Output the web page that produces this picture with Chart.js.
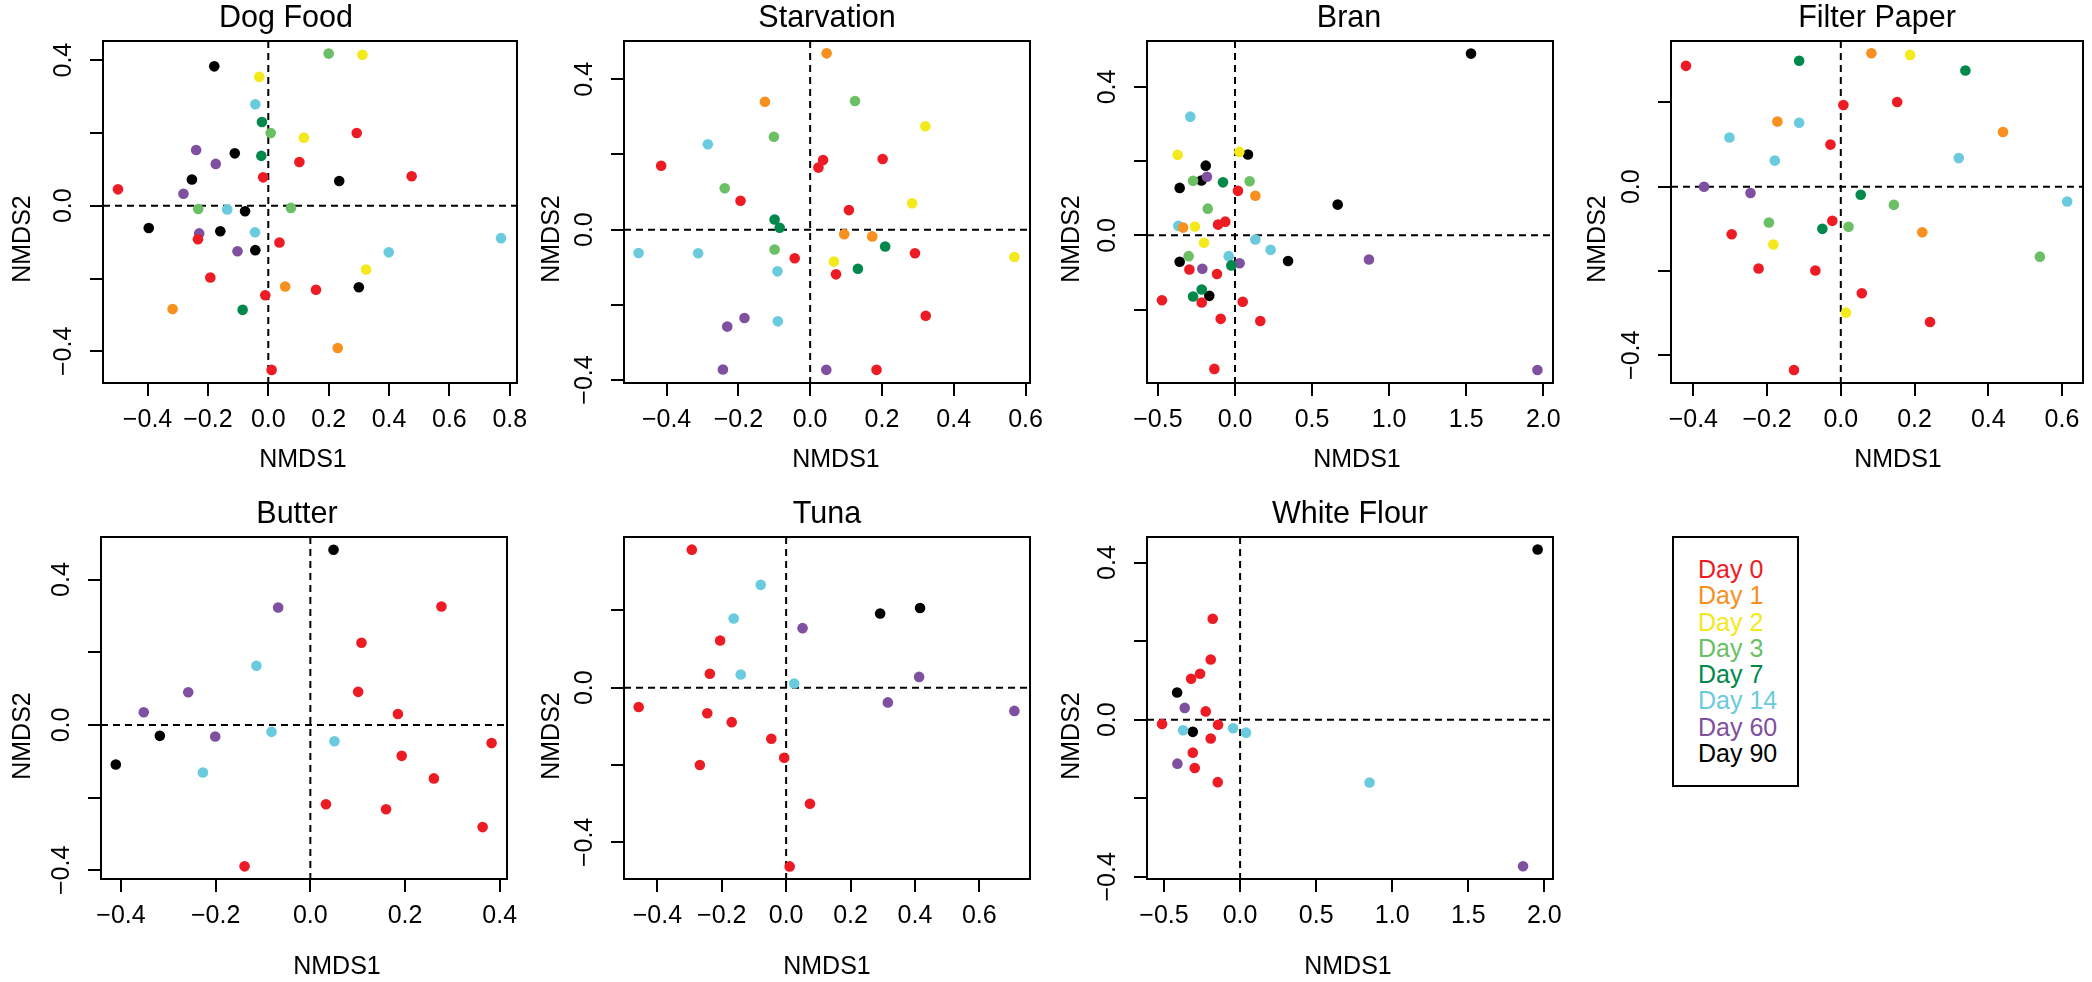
<!DOCTYPE html>
<html>
<head>
<meta charset="utf-8">
<script src="https://cdn.jsdelivr.net/npm/chart.js@4.4.1/dist/chart.umd.min.js"></script>
<style>
  html, body { margin: 0; padding: 0; background: #fff; overflow: hidden; }
  body { width: 2092px; height: 982px; position: relative; font-family: 'Liberation Sans', Arial, sans-serif; }
  canvas { position: absolute; }
  #legend { position: absolute; left: 1672px; top: 536px; width: 127px; height: 251px; box-sizing: border-box;
            border: 2px solid #000; padding: 18px 0 0 24px; font-size: 25px; line-height: 26.3px; }
</style>
</head>
<body>
<div id="legend"></div>
<script>
// days and their colours
const days = ['Day 0', 'Day 1', 'Day 2', 'Day 3', 'Day 7', 'Day 14', 'Day 60', 'Day 90'];
const dayColors = ['#ED1C24', '#F7901E', '#F3E91B', '#6BBF64', '#00894B', '#6BCBDE', '#7F4FA0', '#000000'];

// Dog Food
const dogFoodX = [0.200, 0.312, -0.179, -0.030, -0.043, -0.021, 0.008, 0.118, 0.293, -0.239, -0.111, -0.023, -0.174, 0.103, -0.017,
  -0.253, 0.235, 0.475, -0.498, -0.281, -0.232, -0.136, -0.077, 0.075, -0.396, -0.229, -0.233, -0.159, -0.044, 0.037, 0.771,
  -0.102, -0.043, 0.399, 0.324, -0.192, 0.056, 0.158, 0.300, -0.010, -0.317, -0.085, 0.230, 0.011];
const dogFoodY = [0.418, 0.415, 0.383, 0.354, 0.279, 0.230, 0.200, 0.187, 0.200, 0.153, 0.144, 0.137, 0.115, 0.120, 0.078,
  0.072, 0.068, 0.081, 0.045, 0.033, -0.009, -0.010, -0.015, -0.006, -0.061, -0.076, -0.092, -0.070, -0.073, -0.101, -0.089,
  -0.125, -0.122, -0.128, -0.175, -0.197, -0.222, -0.231, -0.224, -0.246, -0.284, -0.286, -0.391, -0.451];
const dogFoodDay = [3, 2, 7, 2, 5, 4, 3, 2, 0, 6, 7, 4, 6, 0, 0, 7, 7, 0, 0, 6, 3, 5, 7, 3, 7, 6, 0, 7, 5, 0, 5,
  6, 7, 5, 2, 0, 1, 0, 7, 0, 1, 4, 1, 0];

// Starvation
const starvationX = [0.046, -0.126, 0.125, 0.321, -0.101, -0.285, -0.415, 0.036, 0.023, 0.202, -0.238, -0.194, 0.284, 0.108,
  -0.099, -0.085, 0.095, 0.173, 0.209, -0.478, -0.312, -0.099, -0.043, 0.292, 0.569, 0.066, 0.133, -0.091, 0.072, 0.322,
  -0.183, -0.231, -0.090, -0.243, 0.045, 0.185];
const starvationY = [0.469, 0.340, 0.342, 0.275, 0.247, 0.227, 0.170, 0.185, 0.165, 0.188, 0.110, 0.077, 0.070, 0.052,
  0.027, 0.005, -0.012, -0.018, -0.045, -0.062, -0.063, -0.053, -0.076, -0.063, -0.073, -0.085, -0.104, -0.111, -0.119, -0.229,
  -0.235, -0.258, -0.244, -0.372, -0.373, -0.373];
const starvationDay = [1, 1, 3, 2, 3, 5, 0, 0, 0, 0, 3, 0, 2, 0, 4, 4, 1, 1, 4, 5, 5, 3, 0, 0, 2, 2, 4, 5, 0, 0,
  6, 6, 5, 6, 6, 0];

// Bran
const branX = [1.531, -0.290, -0.372, 0.028, 0.084, -0.190, -0.182, -0.272, -0.218, -0.078, 0.095, -0.359, 0.019, 0.132, 0.666,
  -0.177, -0.110, -0.063, -0.337, -0.368, -0.260, 0.132, -0.201, 0.231, -0.301, -0.041, -0.359, 0.344, 0.869, -0.024, 0.030,
  -0.296, -0.212, -0.117, -0.216, -0.272, -0.167, -0.474, -0.216, 0.050, -0.093, 0.164, -0.134, 1.962];
const branY = [0.490, 0.320, 0.217, 0.225, 0.218, 0.188, 0.158, 0.147, 0.148, 0.143, 0.146, 0.128, 0.120, 0.107, 0.083,
  0.072, 0.029, 0.037, 0.021, 0.026, 0.024, -0.011, -0.020, -0.039, -0.056, -0.056, -0.071, -0.069, -0.065, -0.081, -0.075,
  -0.092, -0.090, -0.104, -0.146, -0.165, -0.163, -0.175, -0.181, -0.179, -0.225, -0.231, -0.360, -0.363];
const branDay = [7, 5, 2, 2, 7, 7, 6, 3, 7, 4, 3, 7, 0, 1, 7, 3, 0, 0, 1, 5, 2, 5, 2, 5, 3, 5, 7, 7, 6, 4, 6,
  0, 6, 0, 4, 4, 7, 0, 0, 0, 0, 0, 0, 6];

// Filter Paper
const filterPaperX = [-0.420, -0.113, 0.083, 0.188, 0.338, 0.007, 0.153, -0.172, -0.113, -0.302, 0.440, -0.028, -0.179, 0.320,
  -0.371, -0.245, 0.054, 0.144, 0.614, -0.195, -0.023, -0.050, 0.021, -0.296, 0.221, -0.183, 0.540, -0.223, -0.069, 0.057,
  0.014, 0.242, -0.127];
const filterPaperY = [0.287, 0.299, 0.317, 0.313, 0.276, 0.194, 0.201, 0.155, 0.152, 0.117, 0.130, 0.100, 0.062, 0.068,
  0.000, -0.015, -0.019, -0.043, -0.035, -0.085, -0.081, -0.100, -0.095, -0.113, -0.108, -0.137, -0.166, -0.194, -0.199, -0.253,
  -0.299, -0.321, -0.435];
const filterPaperDay = [0, 4, 1, 2, 4, 0, 0, 1, 5, 5, 1, 0, 5, 5, 6, 6, 4, 3, 5, 3, 0, 4, 3, 0, 1, 2, 3, 0, 0, 0,
  2, 0, 0];

// Butter
const butterX = [0.049, -0.068, 0.277, 0.108, -0.114, -0.258, 0.101, -0.352, 0.185, -0.318, -0.201, -0.082, 0.051, 0.383,
  0.193, -0.411, -0.227, 0.261, 0.033, 0.160, 0.364, -0.139];
const butterY = [0.482, 0.323, 0.326, 0.226, 0.163, 0.090, 0.091, 0.035, 0.030, -0.030, -0.032, -0.019, -0.045, -0.050,
  -0.085, -0.109, -0.131, -0.147, -0.218, -0.232, -0.281, -0.389];
const butterDay = [7, 6, 0, 0, 5, 6, 0, 6, 0, 7, 6, 5, 5, 0, 0, 7, 5, 0, 0, 0, 0, 0];

// Tuna
const tunaX = [-0.293, -0.079, 0.292, 0.416, -0.163, 0.051, -0.205, -0.237, -0.141, 0.025, 0.413, 0.316, 0.709, -0.458,
  -0.245, -0.169, -0.046, -0.006, -0.268, 0.074, 0.011];
const tunaY = [0.357, 0.266, 0.192, 0.206, 0.179, 0.154, 0.122, 0.036, 0.034, 0.011, 0.028, -0.038, -0.060, -0.050,
  -0.066, -0.089, -0.132, -0.181, -0.200, -0.300, -0.462];
const tunaDay = [0, 5, 7, 7, 5, 6, 0, 0, 5, 5, 6, 6, 6, 0, 0, 0, 0, 0, 0, 0, 0];

// White Flour
const whiteFlourX = [1.956, -0.180, -0.193, -0.263, -0.322, -0.414, -0.364, -0.226, -0.513, -0.375, -0.311, -0.145, -0.046,
  0.039, -0.193, -0.311, -0.412, -0.298, -0.147, 0.851, 1.860];
const whiteFlourY = [0.433, 0.257, 0.153, 0.117, 0.104, 0.069, 0.030, 0.021, -0.011, -0.027, -0.031, -0.013, -0.022,
  -0.033, -0.048, -0.084, -0.112, -0.123, -0.159, -0.160, -0.373];
const whiteFlourDay = [7, 0, 0, 0, 0, 7, 6, 0, 0, 5, 7, 0, 5, 5, 0, 0, 6, 0, 0, 5, 6];

// ticks
const ticksA = [-0.4, -0.2, 0, 0.2, 0.4, 0.6, 0.8];
const ticksB = [-0.5, 0, 0.5, 1.0, 1.5, 2.0];
const ticksC = [-0.4, -0.2, 0, 0.2, 0.4, 0.6];
const ticksD = [-0.4, -0.2, 0, 0.2, 0.4];
const ticksE = [-0.2, 0, 0.2, 0.4];
const ticksF = [-0.4, -0.2, 0, 0.2];
const labelsFull = [-0.4, 0, 0.4];
const labelsTop = [0, 0.4];
const labelsBottom = [-0.4, 0];

const FONT = "'Liberation Sans', Arial, sans-serif";
const PAD_L = 110, PAD_T = 70, PAD_R = 40, PAD_B = 110;

const panels = [
  { title: 'Dog Food', x: dogFoodX, y: dogFoodY, day: dogFoodDay, xTicks: ticksA, yTicks: ticksD, yLabels: labelsFull,
    xRange: [-0.5476, 0.824], yRange: [-0.487, 0.4526], box: [103, 41, 517, 383],
    titleX: 286, xlabX: 303, xlabY: 460, ylabX: 23, ylabY: 239 },
  { title: 'Starvation', x: starvationX, y: starvationY, day: starvationDay, xTicks: ticksC, yTicks: ticksD, yLabels: labelsFull,
    xRange: [-0.5186, 0.6125], yRange: [-0.408, 0.5018], box: [624, 41, 1030, 383],
    titleX: 827, xlabX: 836, xlabY: 460, ylabX: 552, ylabY: 239 },
  { title: 'Bran', x: branX, y: branY, day: branDay, xTicks: ticksB, yTicks: ticksE, yLabels: labelsTop,
    xRange: [-0.571, 2.063], yRange: [-0.398, 0.524], box: [1147, 41, 1553, 383],
    titleX: 1349, xlabX: 1357, xlabY: 460, ylabX: 1072, ylabY: 239 },
  { title: 'Filter Paper', x: filterPaperX, y: filterPaperY, day: filterPaperDay, xTicks: ticksC, yTicks: ticksF, yLabels: labelsBottom,
    xRange: [-0.4606, 0.657], yRange: [-0.466, 0.346], box: [1671, 41, 2083, 383],
    titleX: 1877, xlabX: 1898, xlabY: 460, ylabX: 1598, ylabY: 239 },
  { title: 'Butter', x: butterX, y: butterY, day: butterDay, xTicks: ticksD, yTicks: ticksD, yLabels: labelsFull,
    xRange: [-0.4423, 0.4155], yRange: [-0.4238, 0.517], box: [101, 537, 507, 879],
    titleX: 297, xlabX: 337, xlabY: 967, ylabX: 23, ylabY: 736 },
  { title: 'Tuna', x: tunaX, y: tunaY, day: tunaDay, xTicks: ticksC, yTicks: ticksF, yLabels: labelsBottom,
    xRange: [-0.5036, 0.7575], yRange: [-0.4946, 0.3897], box: [624, 537, 1030, 879],
    titleX: 827, xlabX: 827, xlabY: 967, ylabX: 552, ylabY: 736 },
  { title: 'White Flour', x: whiteFlourX, y: whiteFlourY, day: whiteFlourDay, xTicks: ticksB, yTicks: ticksD, yLabels: labelsFull,
    xRange: [-0.612, 2.057], yRange: [-0.4056, 0.465], box: [1147, 537, 1553, 879],
    titleX: 1350, xlabX: 1348, xlabY: 967, ylabX: 1072, ylabY: 736 }
];

const fmt = v => (Math.abs(v) < 1e-9 ? 0 : v).toFixed(1).replace('-', '\u2212');

// box, zero lines, titles and rotated y labels
const panelDecor = {
  id: 'panelDecor',
  beforeDatasetsDraw(chart) {
    const { ctx, chartArea: a, scales } = chart;
    const x0 = scales.x.getPixelForValue(0), y0 = scales.y.getPixelForValue(0);
    ctx.save();
    ctx.strokeStyle = '#000';
    ctx.lineWidth = 2;
    ctx.setLineDash([7, 5]);
    ctx.beginPath();
    ctx.moveTo(x0, a.top); ctx.lineTo(x0, a.bottom);
    ctx.moveTo(a.left, y0); ctx.lineTo(a.right, y0);
    ctx.stroke();
    ctx.restore();
  },
  afterDraw(chart) {
    const { ctx, chartArea: a, scales } = chart;
    const p = chart.canvas.panel;
    const ox = p.box[0] - PAD_L, oy = p.box[1] - PAD_T;
    ctx.save();
    ctx.strokeStyle = '#000';
    ctx.lineWidth = 2;
    ctx.strokeRect(a.left, a.top, a.right - a.left, a.bottom - a.top);
    ctx.fillStyle = '#000';
    ctx.textAlign = 'center';
    ctx.font = '30.5px ' + FONT;
    ctx.textBaseline = 'alphabetic';
    ctx.fillText(p.title, p.titleX - ox, a.top - 14);
    ctx.font = '25px ' + FONT;
    ctx.textBaseline = 'middle';
    ctx.fillText('NMDS1', p.xlabX - ox, p.xlabY - oy);
    const vertical = (text, x, y) => {
      ctx.save();
      ctx.translate(x, y);
      ctx.rotate(-Math.PI / 2);
      ctx.fillText(text, 0, 0);
      ctx.restore();
    };
    vertical('NMDS2', p.ylabX - ox, p.ylabY - oy);
    p.yLabels.forEach(v => vertical(fmt(v), a.left - 38.5, scales.y.getPixelForValue(v)));
    ctx.restore();
  }
};

function drawPanel(p) {
  const [bl, bt, br, bb] = p.box;
  const canvas = document.createElement('canvas');
  canvas.width = br - bl + PAD_L + PAD_R;
  canvas.height = bb - bt + PAD_T + PAD_B;
  canvas.style.left = (bl - PAD_L) + 'px';
  canvas.style.top = (bt - PAD_T) + 'px';
  canvas.panel = p;
  document.body.appendChild(canvas);

  const datasets = days.map((d, k) => ({
    label: d,
    data: p.x.map((v, i) => ({ x: v, y: p.y[i], k: p.day[i] })).filter(pt => pt.k === k),
    backgroundColor: dayColors[k],
    borderWidth: 0,
    pointRadius: 5.3,
    pointHoverRadius: 5.3
  })).filter(ds => ds.data.length);

  const grid = { drawOnChartArea: false, drawTicks: true, tickLength: 13, color: '#000', lineWidth: 2 };

  new Chart(canvas, {
    type: 'scatter',
    data: { datasets },
    options: {
      responsive: false,
      animation: false,
      events: [],
      layout: { padding: { left: 0, top: PAD_T, right: PAD_R, bottom: 0 } },
      plugins: { legend: { display: false }, tooltip: { enabled: false } },
      scales: {
        x: {
          type: 'linear', min: p.xRange[0], max: p.xRange[1],
          afterFit: s => { s.height = PAD_B; },
          afterBuildTicks: s => { s.ticks = p.xTicks.map(v => ({ value: v })); },
          ticks: { autoSkip: false, maxRotation: 0, minRotation: 0, padding: 9, color: '#000',
                   font: { family: FONT, size: 25 }, callback: v => fmt(v) },
          grid: grid,
          border: { display: false }
        },
        y: {
          type: 'linear', min: p.yRange[0], max: p.yRange[1],
          afterFit: s => { s.width = PAD_L; },
          afterBuildTicks: s => { s.ticks = p.yTicks.map(v => ({ value: v })); },
          ticks: { display: false },
          grid: grid,
          border: { display: false }
        }
      }
    },
    plugins: [panelDecor]
  });
}

panels.forEach(drawPanel);

// legend
const legend = document.getElementById('legend');
days.forEach((d, k) => {
  const row = document.createElement('div');
  row.textContent = d;
  row.style.color = dayColors[k];
  legend.appendChild(row);
});
</script>
</body>
</html>
